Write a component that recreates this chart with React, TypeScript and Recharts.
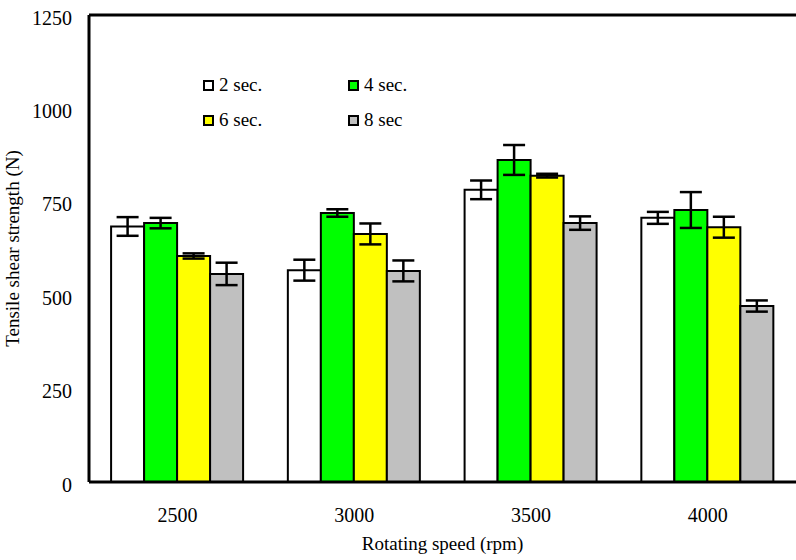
import { BarChart, Bar, XAxis, YAxis, ErrorBar, ReferenceLine } from 'recharts';

const speeds = ['2500', '3000', '3500', '4000'];
const sec2 = [684, 567, 782, 707];
const sec4 = [693, 720, 862, 728];
const sec6 = [605, 664, 820, 682];
const sec8 = [557, 565, 693, 471];
const err2 = [25, 28, 25, 16];
const err4 = [14, 10, 40, 48];
const err6 = [7, 28, 5, 28];
const err8 = [30, 28, 18, 15];
const yTicks = [0, 250, 500, 750, 1000, 1250];

const data = speeds.map((s, i) => ({
  speed: s,
  s2: sec2[i],
  s4: sec4[i],
  s6: sec6[i],
  s8: sec8[i],
  e2: err2[i],
  e4: err4[i],
  e6: err6[i],
  e8: err8[i],
}));

const series = [
  { key: 's2', err: 'e2', name: '2 sec.', color: '#ffffff' },
  { key: 's4', err: 'e4', name: '4 sec.', color: '#00ff00' },
  { key: 's6', err: 'e6', name: '6 sec.', color: '#ffff00' },
  { key: 's8', err: 'e8', name: '8 sec', color: '#c0c0c0' },
];

const font = '"Liberation Serif", "Times New Roman", serif';

function XTick(props: any) {
  const { x, y, payload } = props;
  return (
    <text x={x} y={y + 38} textAnchor="middle" fill="#000" fontSize={20} fontFamily={font}>
      {payload.value}
    </text>
  );
}

function YTick(props: any) {
  const { x, y, payload } = props;
  return (
    <text x={x - 15} y={y + 9.5} textAnchor="end" fill="#000" fontSize={20} fontFamily={font}>
      {payload.value}
    </text>
  );
}

function LegendBox() {
  return (
    <div
      style={{
        position: 'absolute',
        left: 203,
        top: 74,
        display: 'grid',
        gridTemplateColumns: '145px 120px',
        rowGap: 13,
        fontFamily: font,
        fontSize: 19,
        color: '#000',
      }}
    >
      {series.map((s) => (
        <div key={s.key} style={{ display: 'flex', alignItems: 'center', lineHeight: '22px' }}>
          <span
            style={{
              display: 'inline-block',
              width: 7,
              height: 7,
              border: '2px solid #000',
              background: s.color,
              marginRight: 5,
            }}
          />
          {s.name}
        </div>
      ))}
    </div>
  );
}

export default function App() {
  return (
    <div
      style={{
        position: 'absolute',
        left: 0,
        top: 0,
        width: 796,
        height: 560,
        overflow: 'hidden',
        background: '#fff',
        fontFamily: font,
      }}
    >
      <BarChart
        width={796}
        height={560}
        data={data}
        margin={{ top: 15, right: 0, bottom: 0, left: 0 }}
        barCategoryGap="12.5%"
        barGap={0}
      >
        <XAxis
          dataKey="speed"
          axisLine={{ stroke: '#000', strokeWidth: 3 }}
          tickLine={false}
          tickSize={0}
          height={78}
          tick={<XTick />}
          label={{ value: 'Rotating speed (rpm)', position: 'insideBottom', offset: 10, fill: '#000', fontSize: 19, fontFamily: font }}
        />
        <YAxis
          domain={[0, 1250]}
          ticks={yTicks}
          width={89}
          axisLine={{ stroke: '#000', strokeWidth: 3 }}
          tickLine={false}
          tickSize={0}
          tick={<YTick />}
          label={{
            value: 'Tensile shear strength (N)',
            angle: -90,
            position: 'insideLeft',
            offset: 12,
            fill: '#000',
            fontSize: 19,
            fontFamily: font,
            style: { textAnchor: 'middle' },
          }}
        />
        <ReferenceLine y={1250} stroke="#000" strokeWidth={3} />
        {series.map((s) => (
          <Bar
            key={s.key}
            dataKey={s.key}
            name={s.name}
            fill={s.color}
            stroke="#000"
            strokeWidth={2}
            isAnimationActive={false}
          >
            <ErrorBar dataKey={s.err} width={11} stroke="#000" strokeWidth={2.5} />
          </Bar>
        ))}
      </BarChart>
      <LegendBox />
    </div>
  );
}
